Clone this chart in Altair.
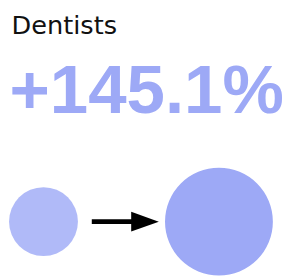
import altair as alt
import pandas as pd

# ---- data ----
stages = ["Before", "After"]
order = [0, 1]
values = [100.0, 245.1]
colors = ["#B0BAF8", "#9DA9F6"]
title_text = "Dentists"

change = (values[1] / values[0] - 1) * 100
change_text = f"{change:+.1f}%"

circles_df = pd.DataFrame({"stage": stages, "order": order, "value": values})
title_df = pd.DataFrame({"label": [title_text]})
change_df = pd.DataFrame({"label": [change_text]})
arrow_df = pd.DataFrame({"k": [0]})

W, H = 276, 263
CY = 214.8

circles = alt.Chart(circles_df).mark_circle(opacity=1).encode(
    x=alt.X("order:Q", scale=alt.Scale(domain=[0, 1], range=[36, 214], zero=False, nice=False), axis=None),
    y=alt.value(CY),
    size=alt.Size("value:Q", scale=alt.Scale(domain=[0, values[1]], range=[0, 11970], zero=True), legend=None),
    color=alt.Color("stage:N", scale=alt.Scale(domain=stages, range=colors), legend=None),
)

title = alt.Chart(title_df).mark_text(
    align="left", baseline="alphabetic", font="DejaVu Sans", fontSize=26, color="#111111"
).encode(x=alt.value(3.5), y=alt.value(24.7), text="label:N")

big = alt.Chart(change_df).mark_text(
    align="left", baseline="alphabetic", font="Liberation Sans", fontWeight="bold",
    fontSize=70, color="#9DA9F6"
).encode(x=alt.value(1.5), y=alt.value(104.7), text="label:N")

shaft = alt.Chart(arrow_df).mark_rule(color="black", strokeWidth=5).encode(
    x=alt.value(85), x2=alt.value(128), y=alt.value(CY)
)

head = alt.Chart(arrow_df).mark_point(
    shape="M-1,-0.72L1,0L-1,0.72Z", filled=True, color="black", opacity=1, strokeWidth=0
).encode(x=alt.value(139), y=alt.value(CY), size=alt.value(784))

chart = alt.layer(circles, shaft, head, title, big).properties(
    width=W, height=H, padding=0, background="white"
).configure_view(stroke=None)

chart.save("out.html", embed_options={"renderer": "svg", "actions": False})
